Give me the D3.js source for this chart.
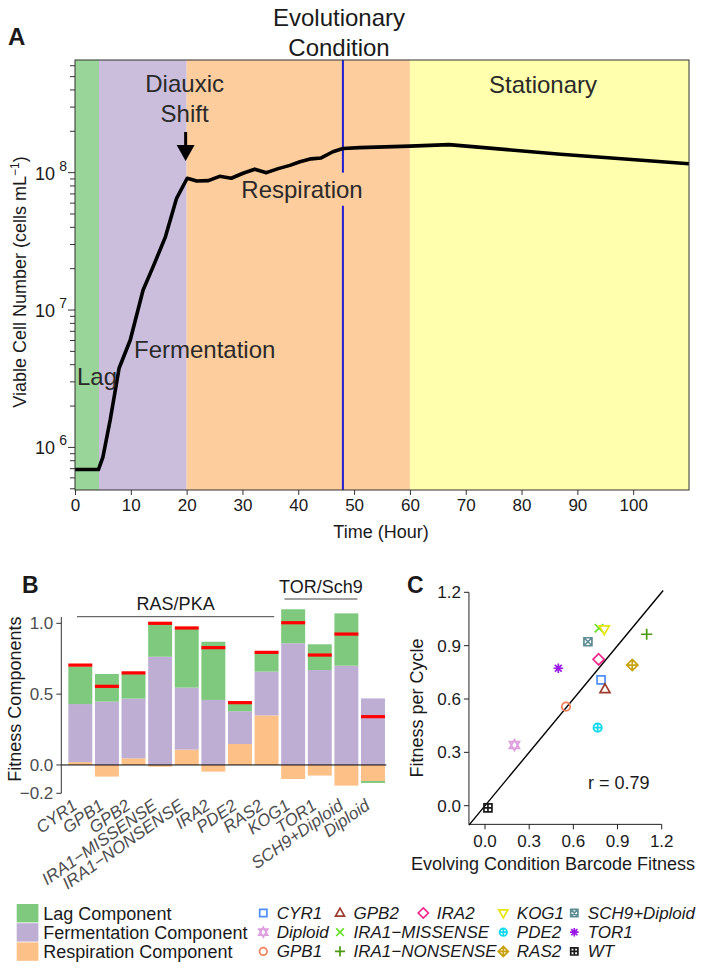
<!DOCTYPE html>
<html><head><meta charset="utf-8">
<script src="https://cdn.jsdelivr.net/npm/d3@7"></script>
<style>
body{margin:0;background:#fff}
svg{display:block}
text{font-family:"Liberation Sans",Arial,Helvetica,sans-serif}
</style>
</head><body>
<svg id="chart" width="704" height="971"></svg>
<script>
// ---------------- DATA ----------------
// Panel A: growth curve
const growthHours = [0, 4.2, 5.0, 6.3, 7.9, 9.9, 12.2, 14.0, 16.2, 18.2, 20.1, 21.8, 23.9, 25.9, 28.0, 30.1, 32.2, 34.3, 36.4, 38.5, 40.3, 42.3, 44.1, 46.2, 48.0, 51.0, 60.0, 67.0, 87.0, 110.0];
const growthCells = [6.9e5, 6.9e5, 8.5e5, 1.58e6, 3.77e6, 6.05e6, 1.4e7, 2.07e7, 3.41e7, 6.5e7, 9.1e7, 8.7e7, 8.75e7, 9.4e7, 9.1e7, 9.9e7, 1.06e8, 1.0e8, 1.07e8, 1.13e8, 1.2e8, 1.26e8, 1.28e8, 1.42e8, 1.5e8, 1.52e8, 1.56e8, 1.6e8, 1.36e8, 1.16e8];
const phaseNames = ["Lag", "Fermentation", "Respiration", "Stationary"];
const phaseStart = [0, 4.3, 20, 60];
const phaseEnd = [4.3, 20, 60, 110];
const evolutionaryHour = 48;
const diauxicHour = 20;
const hourTicks = [0, 10, 20, 30, 40, 50, 60, 70, 80, 90, 100];
const cellTickExponents = [6, 7, 8];

// Panel B: fitness components
const genotypes = ["CYR1", "GPB1", "GPB2", "IRA1\u2212MISSENSE", "IRA1\u2212NONSENSE", "IRA2", "PDE2", "RAS2", "KOG1", "TOR1", "SCH9+Diploid", "Diploid"];
const respComponent = [0.02, -0.082, 0.047, -0.012, 0.108, -0.047, 0.148, 0.35, -0.099, -0.075, -0.146, -0.113];
const fermComponent = [0.41, 0.447, 0.421, 0.764, 0.438, 0.459, 0.231, 0.309, 0.859, 0.670, 0.701, 0.47];
const lagComponent = [0.265, 0.195, 0.174, 0.24, 0.416, 0.411, 0.057, 0.134, 0.24, 0.182, 0.369, -0.014];
const totalFitness = [0.705, 0.555, 0.65, 1.0, 0.967, 0.828, 0.44, 0.795, 1.004, 0.776, 0.924, 0.341];
const componentTicks = [-0.2, 0.0, 0.5, 1.0];
const componentTickLabels = ["\u22120.2", "0.0", "0.5", "1.0"];
const groupNames = ["RAS/PKA", "TOR/Sch9"];
const groupFirst = ["CYR1", "KOG1"];
const groupLast = ["RAS2", "SCH9+Diploid"];
const componentNames = ["Lag Component", "Fermentation Component", "Respiration Component"];

// Panel C: scatter
const scatterNames = ["CYR1", "Diploid", "GPB1", "GPB2", "IRA1\u2212MISSENSE", "IRA1\u2212NONSENSE", "IRA2", "KOG1", "PDE2", "RAS2", "SCH9+Diploid", "TOR1", "WT"];
const barcodeFitness = [0.788, 0.2, 0.55, 0.815, 0.774, 1.098, 0.772, 0.81, 0.765, 1.0, 0.699, 0.498, 0.02];
const fitnessPerCycle = [0.707, 0.341, 0.557, 0.655, 0.998, 0.964, 0.823, 0.992, 0.439, 0.791, 0.922, 0.773, -0.012];
const scatterShapes = ["square", "david", "circle", "triup", "cross", "plus", "diamond", "tridown", "circleplus", "diamondplus", "squarex", "asterisk", "squareplus"];
const scatterColors = ["#4f8ef7", "#de9ede", "#f2805a", "#9e3b2e", "#66e021", "#4a9a12", "#f0288c", "#e6e60c", "#12d8ee", "#c9a30f", "#5c8c94", "#9a19e6", "#1a1a1a"];
const fitTicks = [0, 0.3, 0.6, 0.9, 1.2];
const fitTickLabels = ["0.0", "0.3", "0.6", "0.9", "1.2"];
const correlationR = 0.79;

// ---------------- DRAWING ----------------
const svg = d3.select("#chart");
const font = "'Liberation Sans',Arial,Helvetica,sans-serif";
const dark = "#1a1a1a";

// ===== Panel A =====
const xA = d3.scaleLinear().domain([0, 110]).range([75, 689]);
const yA = d3.scaleLog().domain([Math.pow(10, 5.69), Math.pow(10, 8.82)]).range([490, 60]);
const phaseColors = ["#7FC97F", "#BEAED4", "#FDC086", "#FFFF99"];
const gA = svg.append("g");
const [aTop, aBot] = [yA.range()[1], yA.range()[0]];

gA.selectAll("rect.phase").data(phaseNames).join("rect")
  .attr("x", (d, i) => xA(phaseStart[i]))
  .attr("width", (d, i) => xA(phaseEnd[i]) - xA(phaseStart[i]))
  .attr("y", aTop).attr("height", aBot - aTop)
  .attr("fill", (d, i) => phaseColors[i]).attr("fill-opacity", 0.8);

// evolutionary condition line with gap for label
const respY = yA(1e8);
gA.append("line").attr("x1", xA(evolutionaryHour)).attr("x2", xA(evolutionaryHour))
  .attr("y1", aTop).attr("y2", respY).attr("stroke", "#2020d0").attr("stroke-width", 2);
gA.append("line").attr("x1", xA(evolutionaryHour)).attr("x2", xA(evolutionaryHour))
  .attr("y1", respY + 33).attr("y2", aBot).attr("stroke", "#2020d0").attr("stroke-width", 2);

// clip
svg.append("clipPath").attr("id", "clipA").append("rect")
  .attr("x", xA(0)).attr("y", aTop).attr("width", xA(110) - xA(0)).attr("height", aBot - aTop);

const growth = growthHours.map((h, i) => ({h, c: growthCells[i]}));
gA.append("path").datum(growth)
  .attr("clip-path", "url(#clipA)")
  .attr("d", d3.line().x(d => xA(d.h)).y(d => yA(d.c)))
  .attr("fill", "none").attr("stroke", "#000").attr("stroke-width", 3.6)
  .attr("stroke-linejoin", "round");

// frame
gA.append("rect").attr("x", xA(0)).attr("y", aTop).attr("width", xA(110) - xA(0)).attr("height", aBot - aTop)
  .attr("fill", "none").attr("stroke", "#333").attr("stroke-width", 1);

// x axis
const xAxisA = gA.append("g").attr("transform", `translate(0,${aBot})`)
  .call(d3.axisBottom(xA).tickValues(hourTicks).tickSize(5).tickSizeOuter(0).tickPadding(4));
xAxisA.select(".domain").remove();
xAxisA.selectAll("line").attr("stroke", "#333");
xAxisA.selectAll("text").attr("font-size", 17).attr("fill", dark).attr("font-family", font);

// y axis ticks (major + minor)
const [lo, hi] = yA.domain();
const minorVals = [];
for (let k = 5; k <= 8; k++) for (let m = 2; m <= 9; m++) { const v = m * Math.pow(10, k); if (v >= lo && v <= hi) minorVals.push(v); }
gA.selectAll("line.minor").data(minorVals).join("line")
  .attr("x1", xA(0) - 5).attr("x2", xA(0)).attr("y1", d => yA(d)).attr("y2", d => yA(d)).attr("stroke", "#333");
gA.selectAll("line.major").data(cellTickExponents).join("line")
  .attr("x1", xA(0) - 7).attr("x2", xA(0)).attr("y1", d => yA(Math.pow(10, d))).attr("y2", d => yA(Math.pow(10, d))).attr("stroke", "#333");
const yLab = gA.selectAll("text.ylab").data(cellTickExponents).join("text")
  .attr("x", 55).attr("y", d => yA(Math.pow(10, d)) + 7)
  .attr("text-anchor", "end").attr("font-size", 18).attr("fill", dark);
yLab.append("tspan").text("10");
yLab.append("tspan").attr("x", 67).attr("dy", -9).attr("font-size", 14).attr("text-anchor", "end").text(d => d);

// axis titles
gA.append("text").attr("transform", `translate(${(xA(0) + xA(110)) / 2 - 1},538)`)
  .attr("text-anchor", "middle").attr("font-size", 18).attr("fill", dark).text("Time (Hour)");
const yt = gA.append("text").attr("transform", `translate(26,${(aTop + aBot) / 2 + 7}) rotate(-90)`)
  .attr("text-anchor", "middle").attr("font-size", 18).attr("fill", dark);
yt.append("tspan").text("Viable Cell Number (cells mL");
yt.append("tspan").attr("dy", -7).attr("font-size", 12).text("\u22121");
yt.append("tspan").attr("dy", 7).text(")");

// phase labels
const phaseLabelPos = [[77, 385, "start"], [134, 358, "start"], [302, 198, "middle"], [543, 93, "middle"]];
gA.selectAll("text.phase").data(phaseNames).join("text")
  .attr("x", (d, i) => phaseLabelPos[i][0]).attr("y", (d, i) => phaseLabelPos[i][1])
  .attr("text-anchor", (d, i) => phaseLabelPos[i][2])
  .attr("font-size", 24).attr("fill", "#2a2a2a").text(d => d);

// diauxic shift + arrow
gA.append("text").attr("x", xA(diauxicHour) - 2).attr("y", 92).attr("text-anchor", "middle")
  .attr("font-size", 24).attr("fill", "#2a2a2a").text("Diauxic");
gA.append("text").attr("x", xA(diauxicHour) - 2).attr("y", 122).attr("text-anchor", "middle")
  .attr("font-size", 24).attr("fill", "#2a2a2a").text("Shift");
const ax = xA(diauxicHour) - 1;
gA.append("line").attr("x1", ax).attr("x2", ax).attr("y1", 132).attr("y2", 147).attr("stroke", "#000").attr("stroke-width", 3);
gA.append("path").attr("d", `M${ax - 9},145L${ax + 9},145L${ax},161Z`).attr("fill", "#000");

// title
gA.append("text").attr("x", 339).attr("y", 26).attr("text-anchor", "middle").attr("font-size", 24).attr("fill", dark).text("Evolutionary");
gA.append("text").attr("x", 339).attr("y", 56).attr("text-anchor", "middle").attr("font-size", 24).attr("fill", dark).text("Condition");
svg.append("text").attr("x", 8).attr("y", 45).attr("font-size", 24).attr("font-weight", "bold").attr("fill", dark).text("A");

// ===== Panel B =====
const gB = svg.append("g");
const xB = d3.scaleBand().domain(genotypes).range([67, 386.3]).paddingInner(0.1).paddingOuter(0.05);
const yB = d3.scaleLinear().domain([-0.2, 1.0]).range([793.3, 623.3]);
const bw = xB.bandwidth();
const rows = genotypes.map((g, i) => ({g, resp: respComponent[i], ferm: fermComponent[i], lag: lagComponent[i]}));
const series = d3.stack().keys(["resp", "ferm", "lag"]).offset(d3.stackOffsetDiverging)(rows);
const compColors = {resp: "#FDC086", ferm: "#BEAED4", lag: "#7FC97F"};
gB.selectAll("g.s").data(series).join("g").attr("fill", d => compColors[d.key])
  .selectAll("rect").data(d => d).join("rect")
  .attr("x", d => xB(d.data.g)).attr("width", bw)
  .attr("y", d => yB(Math.max(d[0], d[1])))
  .attr("height", d => Math.abs(yB(d[0]) - yB(d[1])));

// zero line
const axB = 61.3;
gB.append("line").attr("x1", axB).attr("x2", 386.3).attr("y1", yB(0)).attr("y2", yB(0)).attr("stroke", "#000").attr("stroke-width", 1);
// totals
gB.selectAll("rect.tot").data(genotypes).join("rect")
  .attr("x", d => xB(d)).attr("width", bw)
  .attr("y", (d, i) => yB(totalFitness[i]) - 1.6).attr("height", 3.2).attr("fill", "#ff0000");

// y axis
gB.append("line").attr("x1", axB).attr("x2", axB).attr("y1", yB(-0.2)).attr("y2", yB(1.045)).attr("stroke", "#333");
gB.selectAll("line.tk").data(componentTicks).join("line")
  .attr("x1", axB - 5).attr("x2", axB).attr("y1", d => yB(d)).attr("y2", d => yB(d)).attr("stroke", "#333");
gB.selectAll("text.tk").data(componentTicks).join("text")
  .attr("x", axB - 8).attr("y", d => yB(d) + 6).attr("text-anchor", "end")
  .attr("font-size", 17).attr("fill", "#4d4d4d").text((d, i) => componentTickLabels[i]);
gB.append("text").attr("transform", `translate(21,${(yB(-0.2) + yB(1.045)) / 2 - 6}) rotate(-90)`)
  .attr("text-anchor", "middle").attr("font-size", 18).attr("fill", dark).text("Fitness Components");

// x labels
gB.selectAll("text.xl").data(genotypes).join("text")
  .attr("transform", d => `translate(${xB(d) + bw / 2 - 2},808) rotate(-35)`)
  .attr("text-anchor", "end").attr("font-size", 17).attr("font-style", "italic")
  .attr("fill", "#4d4d4d").text(d => d);

// groups
const groupLine = [[77, 274, 616.7, 610], [285, 356.7, 599, 593]];
groupNames.forEach((name, i) => {
  const x1 = xB(groupFirst[i]) + (groupLine[i][0] - [68.3, 281.7][i]);
  const x2 = xB(groupLast[i]) + bw + (groupLine[i][1] - [278.3, 357.7][i]);
  gB.append("line").attr("x1", x1).attr("x2", x2).attr("y1", groupLine[i][2]).attr("y2", groupLine[i][2]).attr("stroke", "#444");
  gB.append("text").attr("x", (x1 + x2) / 2).attr("y", groupLine[i][3]).attr("text-anchor", "middle")
    .attr("font-size", 18).attr("fill", dark).text(name);
});
svg.append("text").attr("x", 22).attr("y", 593).attr("font-size", 23).attr("font-weight", "bold").attr("fill", dark).text("B");

// legend B
const legColors = ["#7FC97F", "#BEAED4", "#FDC086"];
const lgB = svg.append("g");
lgB.selectAll("rect").data(componentNames).join("rect")
  .attr("x", 16.7).attr("y", (d, i) => 904 + i * 19.2).attr("width", 21.7).attr("height", 18.4)
  .attr("fill", (d, i) => legColors[i]);
lgB.selectAll("text").data(componentNames).join("text")
  .attr("x", 43.3).attr("y", (d, i) => 919.5 + i * 19.2).attr("font-size", 18).attr("fill", dark).text(d => d);

// ===== Panel C =====
const gC = svg.append("g");
const xC = d3.scaleLinear().domain([0, 1.2]).range([485, 661.7]);
const yC = d3.scaleLinear().domain([0, 1.2]).range([805.7, 592.3]);
const cx0 = xC(-0.109), cy0 = yC(-0.105);
gC.append("line").attr("x1", cx0).attr("x2", cx0).attr("y1", cy0).attr("y2", yC(1.2)).attr("stroke", "#222");
gC.append("line").attr("x1", cx0).attr("x2", xC(1.2)).attr("y1", cy0).attr("y2", cy0).attr("stroke", "#222");
gC.selectAll("line.yt").data(fitTicks).join("line")
  .attr("x1", cx0 - 5).attr("x2", cx0).attr("y1", d => yC(d)).attr("y2", d => yC(d)).attr("stroke", "#222");
gC.selectAll("line.xt").data(fitTicks).join("line")
  .attr("y1", cy0).attr("y2", cy0 + 5).attr("x1", d => xC(d)).attr("x2", d => xC(d)).attr("stroke", "#222");
gC.selectAll("text.yt").data(fitTicks).join("text")
  .attr("x", cx0 - 8).attr("y", d => yC(d) + 6).attr("text-anchor", "end").attr("font-size", 17)
  .attr("fill", dark).text((d, i) => fitTickLabels[i]);
gC.selectAll("text.xt").data(fitTicks).join("text")
  .attr("x", d => xC(d)).attr("y", 847).attr("text-anchor", "middle").attr("font-size", 17)
  .attr("fill", dark).text((d, i) => fitTickLabels[i]);
gC.append("text").attr("x", 553).attr("y", 870).attr("text-anchor", "middle").attr("font-size", 18).attr("fill", dark)
  .text("Evolving Condition Barcode Fitness");
gC.append("text").attr("transform", `translate(423,708) rotate(-90)`).attr("text-anchor", "middle")
  .attr("font-size", 18).attr("fill", dark).text("Fitness per Cycle");
// identity line
gC.append("line").attr("x1", xC(-0.109)).attr("y1", yC(-0.109)).attr("x2", xC(1.21)).attr("y2", yC(1.21))
  .attr("stroke", "#000").attr("stroke-width", 1.4);
gC.append("text").attr("x", 588).attr("y", 789).attr("font-size", 18).attr("fill", dark).text("r = " + correlationR.toFixed(2));
svg.append("text").attr("x", 407).attr("y", 593).attr("font-size", 23).attr("font-weight", "bold").attr("fill", dark).text("C");

function shapePath(t, r) {
  const sq = `M${-r},${-r}H${r}V${r}H${-r}Z`;
  const rc = r * 1.05;
  const circ = `M${rc},0A${rc},${rc} 0 1,1 ${-rc},0A${rc},${rc} 0 1,1 ${rc},0Z`;
  const d = r * 1.4;
  const dia = `M0,${-d}L${d},0L0,${d}L${-d},0Z`;
  const tu = `M0,${-r * 1.35}L${r * 1.25},${r * 0.85}L${-r * 1.25},${r * 0.85}Z`;
  const td = `M0,${r * 1.35}L${r * 1.25},${-r * 0.85}L${-r * 1.25},${-r * 0.85}Z`;
  const p = r * 1.4;
  const plus = `M${-p},0H${p}M0,${-p}V${p}`;
  const c = r * 1.05;
  const cross = `M${-c},${-c}L${c},${c}M${-c},${c}L${c},${-c}`;
  switch (t) {
    case "square": return sq;
    case "circle": return circ;
    case "diamond": return dia;
    case "triup": return tu;
    case "tridown": return td;
    case "plus": return plus;
    case "cross": return cross;
    case "circleplus": return circ + `M${-rc},0H${rc}M0,${-rc}V${rc}`;
    case "diamondplus": return dia + `M${-d},0H${d}M0,${-d}V${d}`;
    case "squarex": return sq + `M${-r},${-r}L${r},${r}M${-r},${r}L${r},${-r}`;
    case "squareplus": return sq + `M${-r},0H${r}M0,${-r}V${r}`;
    case "asterisk": { const a = r * 1.2, b = r * 0.85; return `M${-a},0H${a}M0,${-a}V${a}M${-b},${-b}L${b},${b}M${-b},${b}L${b},${-b}`; }
    case "david": return tu + td;
  }
}

gC.selectAll("path.pt").data(scatterNames).join("path")
  .attr("transform", (d, i) => `translate(${xC(barcodeFitness[i])},${yC(fitnessPerCycle[i])})`)
  .attr("d", (d, i) => shapePath(scatterShapes[i], 4))
  .attr("fill", "none").attr("stroke", (d, i) => scatterColors[i]).attr("stroke-width", 1.7);

// legend C
const legendCols = [["CYR1", "Diploid", "GPB1"], ["GPB2", "IRA1\u2212MISSENSE", "IRA1\u2212NONSENSE"], ["IRA2"], ["KOG1", "PDE2", "RAS2"], ["SCH9+Diploid", "TOR1", "WT"]];
const legendKeyX = [263.3, 340, 423.3, 503.3, 574.3];
const lgC = svg.append("g");
legendCols.forEach((col, ci) => {
  col.forEach((name, ri) => {
    const idx = scatterNames.indexOf(name);
    const ky = 913 + ri * 19.2;
    lgC.append("path").attr("transform", `translate(${legendKeyX[ci]},${ky})`)
      .attr("d", shapePath(scatterShapes[idx], 3.6)).attr("fill", "none")
      .attr("stroke", scatterColors[idx]).attr("stroke-width", 1.7);
    lgC.append("text").attr("x", legendKeyX[ci] + 13.5).attr("y", ky + 6).attr("font-size", 17)
      .attr("font-style", "italic").attr("fill", dark).text(name);
  });
});
</script>
</body></html>
